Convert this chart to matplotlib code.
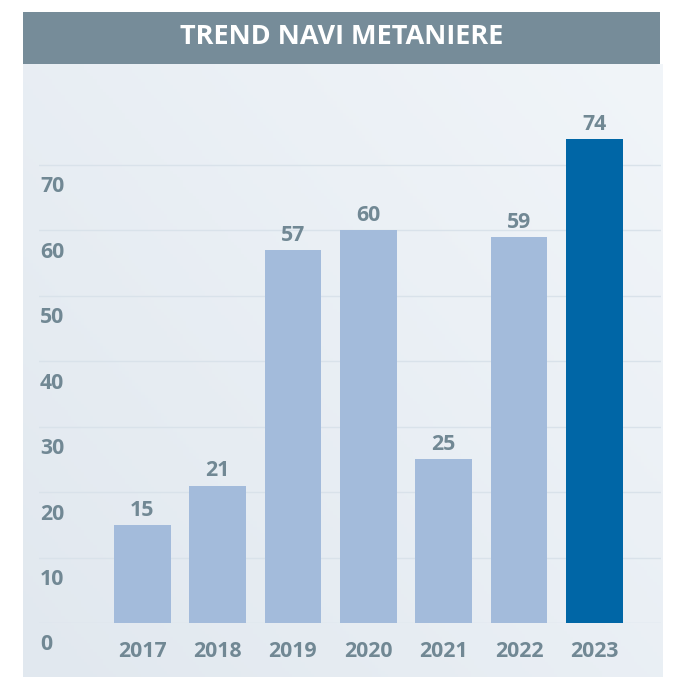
import numpy as np
import matplotlib
matplotlib.use("Agg")
import matplotlib.pyplot as plt
from matplotlib.transforms import ScaledTranslation, blended_transform_factory
from matplotlib.colors import LinearSegmentedColormap

years = ["2017", "2018", "2019", "2020", "2021", "2022", "2023"]
values = [15, 21, 57, 60, 25, 59, 74]
highlight = "2023"
yticks = [0, 10, 20, 30, 40, 50, 60, 70]
title = "TREND NAVI METANIERE"

W, H = 675, 677
DPI = 100
plt.rcParams['font.family'] = ['Open Sans', 'DejaVu Sans']

fig = plt.figure(figsize=(W / DPI, H / DPI), dpi=DPI)
fig.patch.set_facecolor("white")

def fx(px):
    return px / W

def fy(py):
    return 1 - py / H

# gradient panel
bg = fig.add_axes([fx(23), fy(677), fx(663) - fx(23), fy(64) - fy(677)])
bg.set_axis_off()
cmap = LinearSegmentedColormap.from_list("g", ["#e1e8ef", "#f1f5f9"])
gx, gy = np.meshgrid(np.linspace(0, 1, 200), np.linspace(0, 1, 200))
grad = (gx * 0.55 + gy * 0.45)
bg.imshow(grad, cmap=cmap, origin="lower", aspect="auto", extent=[0, 1, 0, 1])
bg.set_xlim(0, 1); bg.set_ylim(0, 1)

# banner
ban = fig.add_axes([fx(22.7), fy(63.7), fx(660) - fx(22.7), fy(12) - fy(63.7)])
ban.set_axis_off()
ban.add_patch(plt.Rectangle((0, 0), 1, 1, transform=ban.transAxes, color="#768c99"))
ban.text(0.5, 0.52, title, transform=ban.transAxes, ha="center", va="center",
         color="white", fontsize=19.5, fontweight="bold")

# main axes
px_per_unit = (623 - 165) / 70.0
ax = fig.add_axes([fx(39), fy(623), fx(661) - fx(39), fy(64) - fy(623)])
ax.patch.set_alpha(0)
ax.set_ylim(0, (623 - 64) / px_per_unit)
x = np.arange(len(years))
step = 75.33
ax.set_xlim((39 - 142.3) / step, (661 - 142.3) / step)

FS = 15.3
TXT = "#718894"
colors = ["#0066a6" if y == highlight else "#a3bbdb" for y in years]
bars = ax.bar(x, values, width=0.753, color=colors, zorder=3)
for xi, v in zip(x, values):
    ax.annotate(str(v), (xi, v), xytext=(0, 3), textcoords="offset points",
                ha="center", va="bottom", fontsize=FS, fontweight="bold",
                color=TXT, zorder=4)

for t in yticks:
    ax.axhline(t, color="#d9e2ea", lw=1, zorder=1)

trans = blended_transform_factory(ax.transAxes, ax.transData)
off = ScaledTranslation(1 / DPI, -22 / DPI, fig.dpi_scale_trans)
for t in yticks:
    ax.text(0, t, str(t), transform=trans + off, ha="left", va="center",
            fontsize=FS, fontweight="bold", color=TXT)

ax.set_yticks([])
ax.set_xticks(x)
ax.set_xticklabels(years, fontsize=FS, fontweight="bold", color=TXT)
ax.tick_params(axis="x", length=0, pad=13)
for s in ax.spines.values():
    s.set_visible(False)

fig.savefig("out.png", dpi=DPI)
